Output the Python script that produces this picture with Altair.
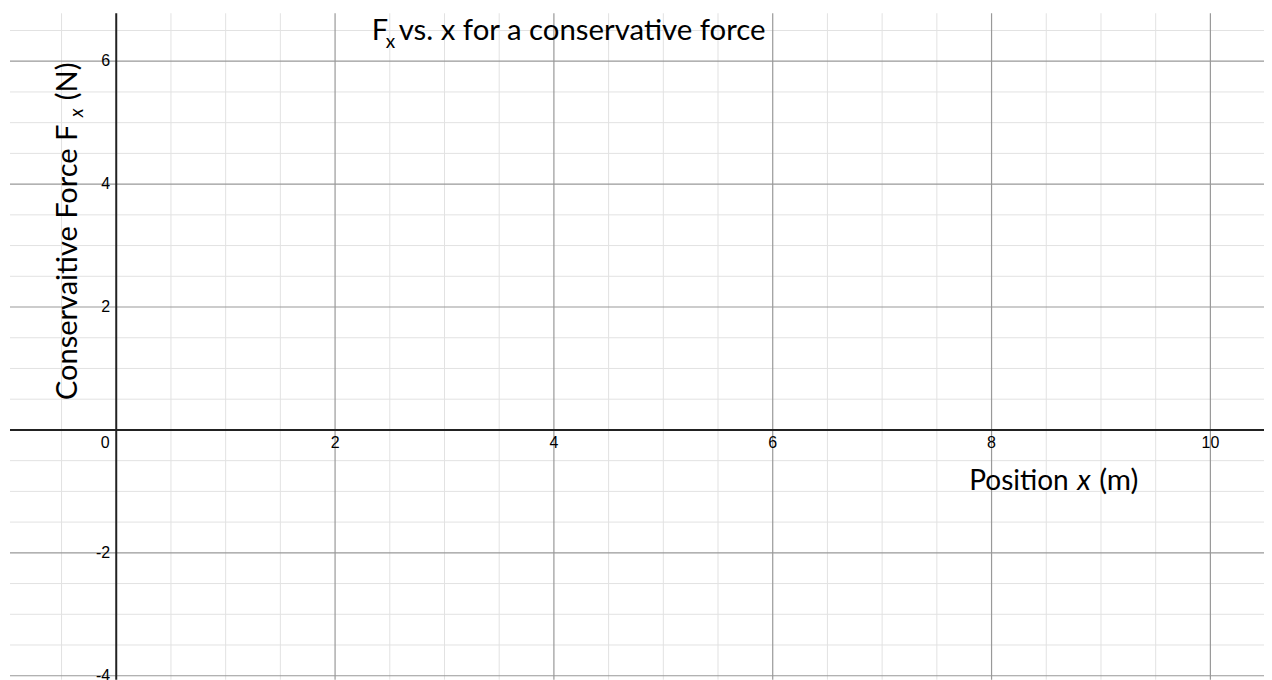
import altair as alt
import pandas as pd

# ---- data ----
x_domain = [-0.971, 10.49]
y_domain = [-4.065, 6.78]
minor_x = [-0.5, 0.5, 1, 1.5, 2.5, 3, 3.5, 4.5, 5, 5.5, 6.5, 7, 7.5, 8.5, 9, 9.5, 10.5]
minor_y = [-3.5, -3, -2.5, -1.5, -1, -0.5, 0.5, 1, 1.5, 2.5, 3, 3.5, 4.5, 5, 5.5, 6.5]
major_x = [-2, 2, 4, 6, 8, 10]
major_y = [-4, -2, 2, 4, 6]
x_tick_values = [2, 4, 6, 8, 10]
x_tick_text = ["2", "4", "6", "8", "10"]
y_tick_values = [-4, -2, 2, 4, 6]
y_tick_text = ["-4", "-2", "2", "4", "6"]
origin_value = [0]
origin_text = ["0"]

W, H = 1255, 667
xs = alt.Scale(domain=x_domain, nice=False, zero=False)
ys = alt.Scale(domain=y_domain, nice=False, zero=False)

def vrules(vals, color, width):
    return alt.Chart(pd.DataFrame({"v": vals})).mark_rule(color=color, strokeWidth=width).encode(
        x=alt.X("v:Q", scale=xs, axis=None))

def hrules(vals, color, width):
    return alt.Chart(pd.DataFrame({"v": vals})).mark_rule(color=color, strokeWidth=width).encode(
        y=alt.Y("v:Q", scale=ys, axis=None))

minor = vrules(minor_x, "#e2e2e2", 1) + hrules(minor_y, "#e2e2e2", 1)
major = vrules(major_x, "#999999", 1.2) + hrules(major_y, "#999999", 1.2)
axes_lines = vrules([0], "#222222", 2) + hrules([0], "#222222", 2)

lab_font = "Liberation Sans"
xlab = alt.Chart(pd.DataFrame({"v": x_tick_values, "t": x_tick_text, "z": [0] * 5})).mark_text(
    font=lab_font, fontSize=16, color="#000", baseline="middle", align="center", dy=13
).encode(x=alt.X("v:Q", scale=xs, axis=None), y=alt.Y("z:Q", scale=ys, axis=None), text="t:N")
ylab = alt.Chart(pd.DataFrame({"v": y_tick_values, "t": y_tick_text, "z": [0] * 5})).mark_text(
    font=lab_font, fontSize=16, color="#000", baseline="middle", align="right", dx=-6
).encode(x=alt.X("z:Q", scale=xs, axis=None), y=alt.Y("v:Q", scale=ys, axis=None), text="t:N")
olab = alt.Chart(pd.DataFrame({"v": origin_value, "t": origin_text})).mark_text(
    font=lab_font, fontSize=16, color="#000", baseline="middle", align="center", dx=-11, dy=13
).encode(x=alt.X("v:Q", scale=xs, axis=None), y=alt.Y("v:Q", scale=ys, axis=None), text="t:N")

tf = "Lato"
def txt(s, x, y, size, angle=0, italic=False):
    return alt.Chart(pd.DataFrame({"t": [s]})).mark_text(
        font=tf, fontSize=size, color="#000", align="left", baseline="alphabetic",
        angle=angle, fontStyle="italic" if italic else "normal"
    ).encode(x=alt.value(x), y=alt.value(y), text="t:N")

title = (txt("F", 362, 27, 29) + txt("x", 376, 35, 19)
         + txt("vs. x for a conservative force", 389, 27, 29.4))
ytitle = (txt("Conservaitive Force F", 67, 387, 29, angle=270)
          + txt("x", 73, 104, 19, angle=270, italic=True)
          + txt("(N)", 67, 87, 29, angle=270))
xtitle = (txt("Position", 960, 477, 28) + txt("x", 1068, 477, 29, italic=True)
          + txt("(m)", 1090, 477, 29.5))

chart = alt.layer(minor, major, axes_lines, xlab, ylab, olab, title, ytitle, xtitle).properties(
    width=W, height=H,
    padding={"left": 2, "top": 5, "right": 0, "bottom": 0},
    autosize=alt.AutoSizeParams(type="none"),
    background="#ffffff",
).configure_view(stroke=None)

chart.save("out.html", embed_options={"renderer": "svg", "actions": False})
